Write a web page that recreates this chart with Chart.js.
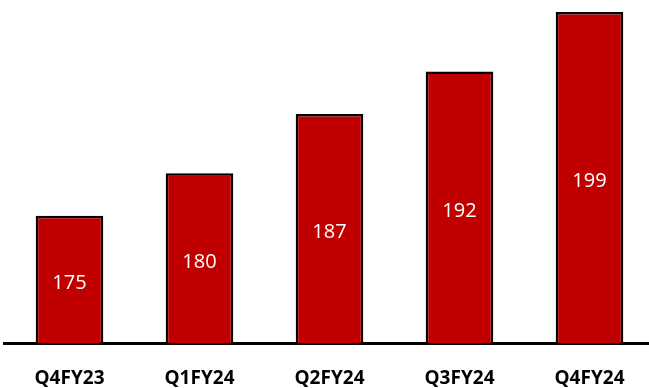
<!DOCTYPE html>
<html>
<head>
<meta charset="utf-8">
<script src="https://cdn.jsdelivr.net/npm/chart.js@4/dist/chart.umd.min.js"></script>
<style>
  html, body { margin: 0; padding: 0; background: #fff; overflow: hidden; }
  #wrap { position: relative; width: 655px; height: 388px; }
</style>
</head>
<body>
<div id="wrap"><canvas id="qChart"></canvas></div>
<script>
// quarterly values
const quarters = ['Q4FY23', 'Q1FY24', 'Q2FY24', 'Q3FY24', 'Q4FY24'];
const values = [175, 180, 187, 192, 199];
const yMin = 160;
const yMax = 200;

// white numbers in the middle of each bar
const insideLabels = {
  id: 'insideLabels',
  afterDraw(chart){
    const c = chart.ctx;
    const meta = chart.getDatasetMeta(0);
    const ys = chart.scales.y;
    const bottom = chart.chartArea.bottom;
    c.save();
    c.fillStyle = '#ffffff';
    c.font = '20px "Open Sans", sans-serif';
    c.textAlign = 'center';
    c.textBaseline = 'middle';
    meta.data.forEach((bar, i) => {
      const top = ys.getPixelForValue(values[i]);
      c.fillText(String(values[i]), bar.x, (top + bottom) / 2 + 4);
    });
    c.restore();
  }
};

new Chart(document.getElementById('qChart'), {
  type: 'bar',
  data: {
    labels: quarters,
    datasets: [{
      data: values,
      backgroundColor: '#C00000',
      borderColor: '#000',
      borderWidth: 2.5,
      borderSkipped: 'bottom',
      barPercentage: 0.52,
      categoryPercentage: 1
    }]
  },
  options: {
    responsive: true,
    maintainAspectRatio: false,
    animation: false,
    layout: { padding: { left: 4.5, right: 0.5, top: 3.5, bottom: -18 } },
    plugins: { legend: { display: false }, tooltip: { enabled: false } },
    scales: {
      x: {
        grid: { display: false },
        border: { display: true, color: '#000', width: 3 },
        ticks: {
          color: '#000',
          padding: 16,
          font: { family: '"Open Sans", sans-serif', size: 19, weight: 'bold' }
        }
      },
      y: {
        display: false,
        min: yMin,
        max: yMax
      }
    }
  },
  plugins: [insideLabels]
});
</script>
</body>
</html>
